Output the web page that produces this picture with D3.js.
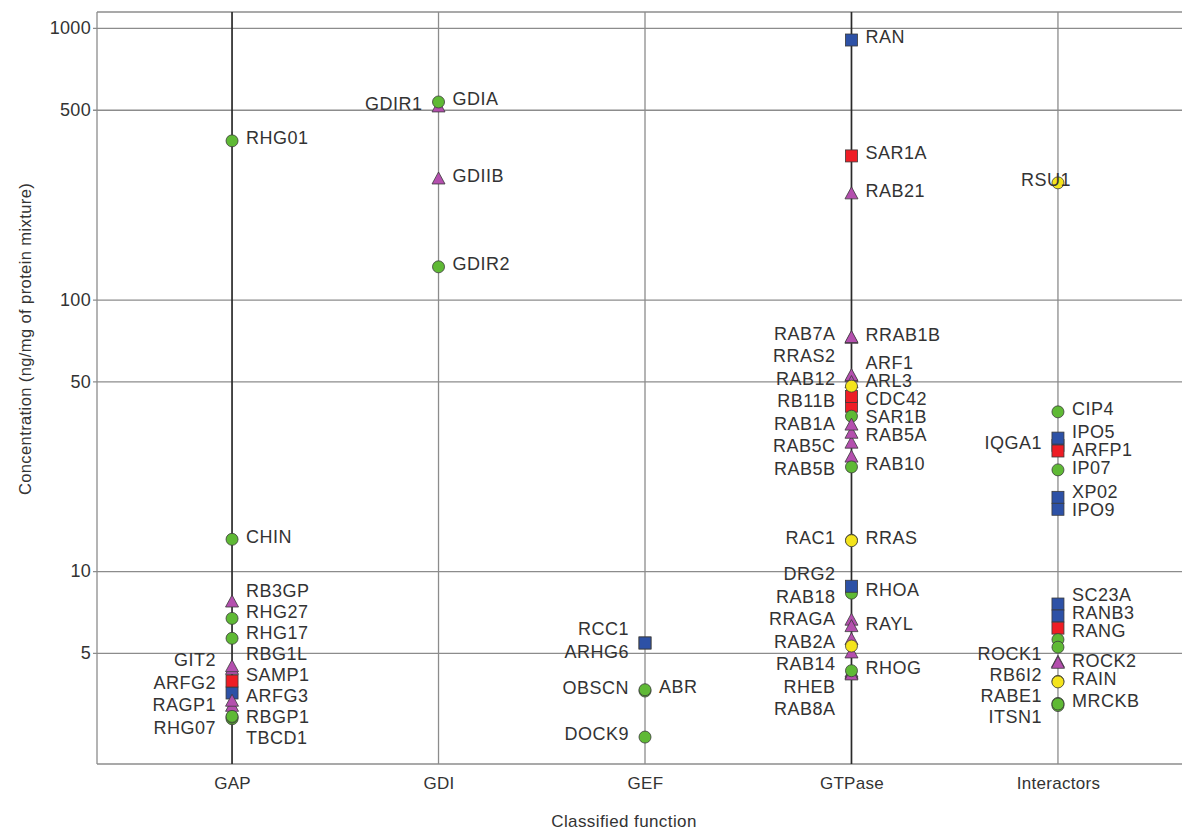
<!DOCTYPE html>
<html><head><meta charset="utf-8">
<script src="https://cdn.jsdelivr.net/npm/d3@7"></script>
<style>
body{margin:0;background:#fff}
svg{display:block}
text{font-family:"Liberation Sans",Arial,Helvetica,sans-serif;fill:#333}
</style>
</head><body>
<svg id="chart" width="1182" height="832"></svg>
<script>
// ---------------- data ----------------
const categories = ["GAP", "GDI", "GEF", "GTPase", "Interactors"];
const yTicks = [5, 10, 50, 100, 500, 1000];
const yTitle = "Concentration (ng/mg of protein mixture)";
const xTitle = "Classified function";
// marker codes: G green circle, Y yellow circle, B blue square, R red square, T magenta triangle
// side: R right label, L left label, O label over the point, "-" no label
// [name, concentration, marker, side]  (listed in drawing order)
const gap = [
  ["RHG01", 384, "G", "R"],
  ["CHIN", 13.1, "G", "R"],
  ["RB3GP", 7.7, "T", "R"],
  ["RHG27", 6.7, "G", "R"],
  ["RHG17", 5.66, "G", "R"],
  ["GIT2", 4.35, "T", "L"],
  ["RBG1L", 4.45, "T", "R"],
  ["ARFG2", 3.56, "B", "L"],
  ["SAMP1", 3.94, "R", "R"],
  ["RAGP1", 3.18, "T", "L"],
  ["ARFG3", 3.32, "T", "R"],
  ["RHG07", 2.86, "G", "L"],
  ["TBCD1", 2.9, "G", "R"],
  ["RBGP1", 2.92, "G", "R"]
];
const gdi = [
  ["GDIR1", 512, "T", "L"],
  ["GDIA", 534, "G", "R"],
  ["GDIIB", 278, "T", "R"],
  ["GDIR2", 132, "G", "R"]
];
const gef = [
  ["RCC1", 5.44, "B", "L"],
  ["ARHG6", 5.44, "B", "L"],
  ["OBSCN", 3.62, "G", "L"],
  ["ABR", 3.66, "G", "R"],
  ["DOCK9", 2.45, "G", "L"]
];
const gtpase = [
  ["RAN", 903, "B", "R"],
  ["SAR1A", 338, "R", "R"],
  ["RAB21", 245, "T", "R"],
  ["RAB7A", 72, "T", "L"],
  ["RRAB1B", 72.5, "T", "R"],
  ["RRAS2", 52, "T", "L"],
  ["ARF1", 52.5, "T", "R"],
  ["RAB12", 49.5, "T", "L"],
  ["RB11B", 40.5, "R", "L"],
  ["CDC42", 44, "R", "R"],
  ["ARL3", 48, "Y", "R"],
  ["SAR1B", 37.2, "G", "R"],
  ["RAB5C", 29.6, "T", "L"],
  ["RAB5A", 32.2, "T", "R"],
  ["RAB1A", 34.5, "T", "L"],
  ["RAB5B", 26.3, "T", "L"],
  ["RAB10", 24.2, "G", "R"],
  ["RAC1", 13.0, "Y", "L"],
  ["RRAS", 12.95, "Y", "R"],
  ["RHOA", 8.3, "G", "R"],
  ["DRG2", 8.8, "B", "L"],
  ["RAB18", 6.6, "T", "L"],
  ["RAYL", 6.25, "T", "R"],
  ["RRAGA", 5.6, "T", "L"],
  ["", 5.0, "T", "-"],
  ["RAB2A", 5.3, "Y", "L"],
  ["RAB14", 4.25, "T", "L"],
  ["RHEB", 4.2, "T", "L"],
  ["RAB8A", 4.15, "T", "L"],
  ["RHOG", 4.3, "G", "R"]
];
const interactors = [
  ["RSU1", 269, "Y", "O"],
  ["CIP4", 38.6, "G", "R"],
  ["IQGA1", 29.0, "B", "L"],
  ["IPO5", 30.9, "B", "R"],
  ["ARFP1", 27.7, "R", "R"],
  ["IP07", 23.6, "G", "R"],
  ["XP02", 18.7, "B", "R"],
  ["IPO9", 16.9, "B", "R"],
  ["SC23A", 7.57, "B", "R"],
  ["RANB3", 6.84, "B", "R"],
  ["RANG", 6.17, "R", "R"],
  ["", 5.6, "G", "-"],
  ["", 5.25, "G", "-"],
  ["ROCK1", 4.62, "T", "L"],
  ["ROCK2", 4.58, "T", "R"],
  ["RB6I2", 3.93, "Y", "L"],
  ["RAIN", 3.91, "Y", "R"],
  ["ITSN1", 3.2, "G", "L"],
  ["RABE1", 3.26, "G", "L"],
  ["MRCKB", 3.24, "G", "R"]
];
const seriesByCategory = [gap, gdi, gef, gtpase, interactors];

// ---------------- layout & style ----------------
const W = 1182, H = 832;
const plot = {left: 97, right: 1193, top: 12, bottom: 764};
const darkLines = ["GAP", "GTPase"];
const markerFill = {G: "#5fb935", Y: "#f4e41c", B: "#2d51a6", R: "#ee1d25", T: "#b44fae"};
const labelFont = 18;
// label spacing (px) per category / side
const labelGap = {
  L: {GAP: 22.5, GDI: 22.5, GEF: 22.5, GTPase: 22.5, Interactors: 21},
  R: {GAP: 21, GDI: 20, GEF: 20, GTPase: 18, Interactors: 18}
};

const svg = d3.select("#chart");
svg.append("rect").attr("width", W).attr("height", H).attr("fill", "#fff");

const x = d3.scalePoint().domain(categories).range([plot.left, plot.right]).padding(0.654);
const y = d3.scaleLog().domain([1.95, 1145]).range([plot.bottom, plot.top]);

// horizontal grid lines + y ticks
const yAxis = d3.axisLeft(y).tickValues(yTicks).tickFormat(d3.format("d"))
  .tickSize(-(plot.right - plot.left)).tickPadding(6);
const gy = svg.append("g").attr("transform", `translate(${plot.left},0)`).call(yAxis);
gy.select(".domain").remove();
gy.selectAll(".tick line").attr("stroke", "#8c8c8c").attr("stroke-width", 1.3).attr("x1", -4);
gy.selectAll(".tick text").attr("font-size", 18).attr("fill", "#444").attr("x", -6)
  .style("font-family", '"Liberation Sans",Arial,sans-serif').attr("letter-spacing", "0.3px");

// frame
svg.append("line").attr("x1", plot.left).attr("x2", plot.left).attr("y1", plot.top).attr("y2", plot.bottom)
  .attr("stroke", "#8c8c8c").attr("stroke-width", 1.3);
svg.append("line").attr("x1", plot.left).attr("x2", W).attr("y1", plot.bottom).attr("y2", plot.bottom)
  .attr("stroke", "#8c8c8c").attr("stroke-width", 1.3);
svg.append("line").attr("x1", plot.left).attr("x2", W).attr("y1", plot.top).attr("y2", plot.top)
  .attr("stroke", "#8c8c8c").attr("stroke-width", 1.3);

// vertical category lines
svg.append("g").selectAll("line").data(categories).join("line")
  .attr("x1", d => x(d)).attr("x2", d => x(d))
  .attr("y1", plot.top).attr("y2", plot.bottom)
  .attr("stroke", d => darkLines.includes(d) ? "#2a2a2a" : "#8c8c8c")
  .attr("stroke-width", d => darkLines.includes(d) ? 1.7 : 1.3);

// x axis labels
const xAxis = d3.axisBottom(x).tickSize(0).tickPadding(13);
const gx = svg.append("g").attr("transform", `translate(0,${plot.bottom})`).call(xAxis);
gx.select(".domain").remove();
gx.selectAll(".tick text").attr("font-size", 17).attr("fill", "#333")
  .style("font-family", '"Liberation Sans",Arial,sans-serif').attr("letter-spacing", "0.3px");

// titles
svg.append("text").attr("x", 624).attr("y", 821).attr("dy", "0.35em").attr("text-anchor", "middle")
  .attr("font-size", 17).attr("letter-spacing", "0.4px").text(xTitle);
svg.append("text").attr("transform", "translate(25,339) rotate(-90)").attr("dy", "0.35em")
  .attr("text-anchor", "middle").attr("font-size", 16.5).attr("letter-spacing", "0.4px").text(yTitle);

// points
const points = [];
seriesByCategory.forEach((arr, ci) => arr.forEach(([name, value, marker, side]) =>
  points.push({cat: categories[ci], name, value, marker, side})));

const gp = svg.append("g");
points.forEach(p => {
  const cx = x(p.cat), cy = y(p.value);
  const fill = markerFill[p.marker];
  let el;
  if (p.marker === "G" || p.marker === "Y") {
    el = gp.append("circle").attr("cx", cx).attr("cy", cy).attr("r", 6);
  } else if (p.marker === "B" || p.marker === "R") {
    el = gp.append("rect").attr("x", cx - 6).attr("y", cy - 6).attr("width", 12).attr("height", 12);
  } else {
    el = gp.append("path").attr("d", `M${cx},${cy - 7}L${cx + 6.5},${cy + 5}L${cx - 6.5},${cy + 5}Z`);
  }
  el.attr("fill", fill).attr("stroke", "#3a3a3a").attr("stroke-width", 0.8);
});

// labels: de-overlap per category & side by centred clustering
function spread(items, gapPx) {
  items.sort((a, b) => a.desired - b.desired);
  let clusters = items.map(d => ({items: [d], sum: d.desired}));
  const start = c => c.sum / c.items.length - (c.items.length - 1) * gapPx / 2;
  let changed = true;
  while (changed) {
    changed = false;
    for (let i = 0; i < clusters.length - 1; i++) {
      const a = clusters[i], b = clusters[i + 1];
      const aEnd = start(a) + (a.items.length - 1) * gapPx;
      if (start(b) - aEnd < gapPx) {
        a.items = a.items.concat(b.items); a.sum += b.sum;
        clusters.splice(i + 1, 1); changed = true; break;
      }
    }
  }
  clusters.forEach(c => { const s = start(c); c.items.forEach((d, i) => d.ly = s + i * gapPx); });
}
const labelled = points.filter(p => p.side !== "-");
labelled.forEach(p => p.desired = y(p.value) - 3);
categories.forEach(cat => ["L", "R"].forEach(side => {
  const items = labelled.filter(p => p.cat === cat && p.side === side);
  spread(items, labelGap[side][cat]);
}));
labelled.filter(p => p.side === "O").forEach(p => p.ly = p.desired);

svg.append("g").selectAll("text").data(labelled).join("text")
  .attr("x", p => p.side === "R" ? x(p.cat) + 14 : p.side === "L" ? x(p.cat) - 16 : x(p.cat) + 13)
  .attr("y", p => p.ly)
  .attr("dy", "0.35em")
  .attr("text-anchor", p => p.side === "R" ? "start" : "end")
  .attr("font-size", labelFont)
  .attr("letter-spacing", "0.5px")
  .attr("fill", "#333")
  .text(p => p.name);
</script>
</body></html>
